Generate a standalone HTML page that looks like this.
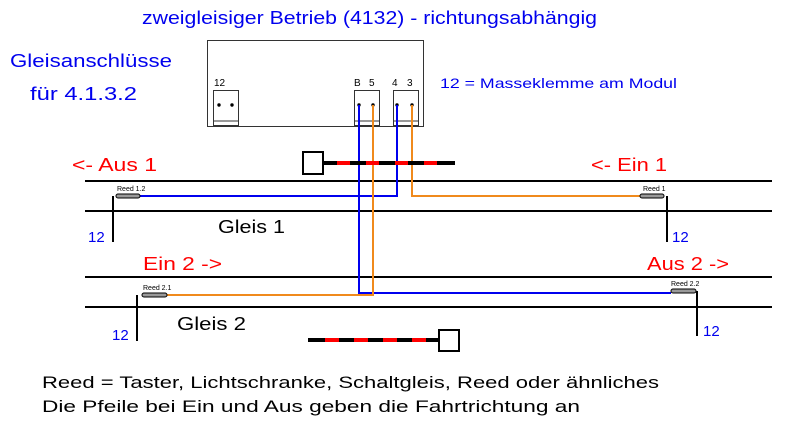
<!DOCTYPE html>
<html><head><meta charset="utf-8"><style>
html,body{margin:0;padding:0;background:#fff;}
svg{display:block;font-family:"Liberation Sans",sans-serif;}
</style></head><body>
<svg width="793" height="423" viewBox="0 0 793 423" xmlns="http://www.w3.org/2000/svg">
<rect width="793" height="423" fill="#fff"/>
<text x="142" y="24" font-size="18" fill="#0000ee" textLength="455" lengthAdjust="spacingAndGlyphs">zweigleisiger Betrieb (4132) - richtungsabhängig</text>
<text x="10" y="67" font-size="18" fill="#0000ee" textLength="162" lengthAdjust="spacingAndGlyphs">Gleisanschlüsse</text>
<text x="30" y="100" font-size="18" fill="#0000ee" textLength="107" lengthAdjust="spacingAndGlyphs">für 4.1.3.2</text>
<text x="440" y="88" font-size="14" fill="#0000ee" textLength="237" lengthAdjust="spacingAndGlyphs">12 = Masseklemme am Modul</text>
<!-- module -->
<rect x="207.5" y="40.5" width="216" height="86" fill="#fff" stroke="#333"/>
<text x="214" y="86" font-size="10">12</text>
<text x="354" y="86" font-size="10">B</text><text x="369" y="86" font-size="10">5</text>
<text x="392" y="86" font-size="10">4</text><text x="407" y="86" font-size="10">3</text>
<g fill="#fff" stroke="#333">
<rect x="213.5" y="90.5" width="25" height="35"/><line x1="213" y1="121" x2="238" y2="121"/>
<rect x="354.5" y="90.5" width="25" height="35"/><line x1="354" y1="121" x2="379" y2="121"/>
<rect x="393.5" y="90.5" width="25" height="35"/><line x1="393" y1="121" x2="418" y2="121"/>
</g>
<g fill="#000"><circle cx="219" cy="105" r="1.7"/><circle cx="232" cy="105" r="1.7"/>
<circle cx="359" cy="105" r="1.7"/><circle cx="373" cy="105" r="1.7"/>
<circle cx="397" cy="105" r="1.7"/><circle cx="412" cy="105" r="1.7"/></g>
<!-- rails -->
<g stroke="#000" stroke-width="2">
<line x1="85" y1="181" x2="772" y2="181"/><line x1="85" y1="211" x2="772" y2="211"/>
<line x1="85" y1="277" x2="772" y2="277"/><line x1="85" y1="307" x2="772" y2="307"/>
<line x1="113" y1="196" x2="113" y2="242"/><line x1="667" y1="196" x2="667" y2="242"/>
<line x1="137" y1="295" x2="137" y2="341"/><line x1="697" y1="291" x2="697" y2="336"/>
</g>
<!-- wires -->
<g fill="none" stroke-width="2">
<polyline points="397,105 397,196 140,196" stroke="#0000ee"/>
<polyline points="412,105 412,196 640,196" stroke="#f08a1c"/>
<polyline points="359,105 359,293 671,293" stroke="#0000ee"/>
<polyline points="373,105 373,295 167,295" stroke="#f08a1c"/>
</g>
<!-- top signal -->
<rect x="303" y="152" width="20" height="22" fill="#fff" stroke="#000" stroke-width="2"/>
<line x1="323" y1="163" x2="455" y2="163" stroke="#000" stroke-width="4"/>
<g stroke="#f00" stroke-width="4"><line x1="337" y1="163" x2="350" y2="163"/><line x1="366" y1="163" x2="379" y2="163"/><line x1="395" y1="163" x2="408" y2="163"/><line x1="424" y1="163" x2="437" y2="163"/></g>
<!-- bottom signal -->
<rect x="439" y="330" width="20" height="21" fill="#fff" stroke="#000" stroke-width="2"/>
<line x1="308" y1="340" x2="439" y2="340" stroke="#000" stroke-width="4"/>
<g stroke="#f00" stroke-width="4"><line x1="325" y1="340" x2="339" y2="340"/><line x1="354" y1="340" x2="368" y2="340"/><line x1="383" y1="340" x2="397" y2="340"/><line x1="412" y1="340" x2="426" y2="340"/></g>
<!-- reeds -->
<g fill="#999" stroke="#000" stroke-width="1">
<rect x="116" y="194" width="24" height="4" rx="2"/>
<rect x="640" y="194" width="24" height="4" rx="2"/>
<rect x="142" y="293" width="25" height="4" rx="2"/>
<rect x="671" y="289" width="25" height="4" rx="2"/>
</g>
<g font-size="7" fill="#000">
<text x="117" y="191">Reed 1.2</text><text x="643" y="191">Reed 1</text>
<text x="143" y="290">Reed 2.1</text><text x="671" y="286">Reed 2.2</text>
</g>
<g font-size="18" fill="#f00" lengthAdjust="spacingAndGlyphs">
<text x="72" y="171" textLength="85" lengthAdjust="spacingAndGlyphs">&lt;- Aus 1</text>
<text x="591" y="171" textLength="76" lengthAdjust="spacingAndGlyphs">&lt;- Ein 1</text>
<text x="143" y="270" textLength="79" lengthAdjust="spacingAndGlyphs">Ein 2 -&gt;</text>
<text x="647" y="270" textLength="82" lengthAdjust="spacingAndGlyphs">Aus 2 -&gt;</text>
</g>
<g font-size="18" fill="#000">
<text x="218" y="233" textLength="67" lengthAdjust="spacingAndGlyphs">Gleis 1</text>
<text x="177" y="330" textLength="69" lengthAdjust="spacingAndGlyphs">Gleis 2</text></g>
<g font-size="15" fill="#0000ee">
<text x="88" y="242">12</text><text x="672" y="242">12</text>
<text x="112" y="340">12</text><text x="703" y="336">12</text>
</g>
<g font-size="17" fill="#000">
<text x="42" y="388" textLength="617" lengthAdjust="spacingAndGlyphs">Reed = Taster, Lichtschranke, Schaltgleis, Reed oder ähnliches</text>
<text x="42" y="412" textLength="538" lengthAdjust="spacingAndGlyphs">Die Pfeile bei Ein und Aus geben die Fahrtrichtung an</text>
</g>
</svg>
</body></html>
